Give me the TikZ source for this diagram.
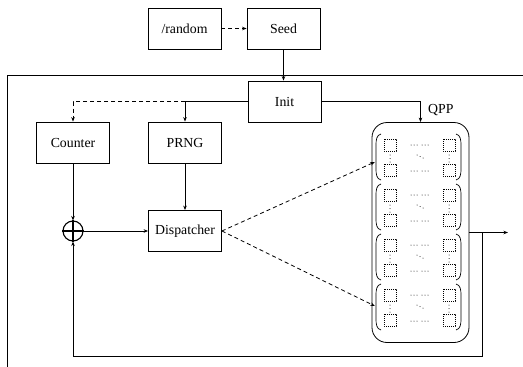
\documentclass[tikz,border=0pt]{standalone}
\usepackage{fontspec}
\setmainfont{Liberation Serif}
\usetikzlibrary{arrows.meta,calc}
\begin{document}
\begin{tikzpicture}[x=1pt,y=-1pt,
  font=\fontsize{13.8}{16}\selectfont,
  box/.style={draw, line width=0.8pt, minimum width=73pt, minimum height=41pt, inner sep=0pt},
  ar/.style={-{Stealth[length=4.5pt,width=3.5pt]}, line width=0.8pt},
  dsh/.style={dash pattern=on 4pt off 3pt},
  sq/.style={line width=0.6pt, dash pattern=on 1.2pt off 0.8pt},
  dt/.style={fill, circle, inner sep=0pt, minimum size=1pt}]
\useasboundingbox (0,0) rectangle (523,367);

% frame
\draw[line width=1pt] (7,367) -- (7,75) -- (523,75);

% boxes
\node[box] (rand) at (184.5,28.5) {/random};
\node[box] (seed) at (283.5,28.5) {Seed};
\node[box] (init) at (284.5,101.5) {Init};
\node[box] (counter) at (73,142.5) {Counter};
\node[box] (prng) at (185,142.5) {PRNG};
\node[box] (disp) at (185,231) {Dispatcher};
\node[draw, circle, line width=1.1pt, minimum size=20pt, inner sep=0pt] (xor) at (73,231) {};
\draw[line width=1.1pt] (xor.north) -- (xor.south) (xor.west) -- (xor.east);

% QPP
\node[draw, line width=0.8pt, rounded corners=15pt, minimum width=97pt, minimum height=220pt, inner sep=0pt] (qpp) at (420.5,232.5) {};
\node[anchor=west, inner sep=0pt] (qlab) at (428,110) {QPP};

\foreach \cy [count=\i] in {157,207,257,307} {
  \node[minimum width=85pt, minimum height=46pt, inner sep=0pt] (b\i) at (418.5,\cy) {};
  % parentheses
  \draw[line width=0.7pt] (381,{\cy-23}) .. controls (376.5,{\cy-22}) and (376,{\cy-17}) .. (376,{\cy-12})
     -- (376,{\cy+12}) .. controls (376,{\cy+17}) and (376.5,{\cy+22}) .. (381,{\cy+23});
  \draw[line width=0.7pt] (456,{\cy-23}) .. controls (460.5,{\cy-22}) and (461,{\cy-17}) .. (461,{\cy-12})
     -- (461,{\cy+12}) .. controls (461,{\cy+17}) and (460.5,{\cy+22}) .. (456,{\cy+23});
  % squares
  \draw[sq] (384,{\cy-18}) rectangle (396,{\cy-6});
  \draw[sq] (384,{\cy+7}) rectangle (396,{\cy+19});
  \draw[sq] (443,{\cy-18}) rectangle (455,{\cy-6});
  \draw[sq] (443,{\cy+7}) rectangle (455,{\cy+19});
  % vertical dots
  \foreach \yy in {-2,1.5,5} {
    \fill (390,{\cy+\yy}) circle (0.5pt);
    \fill (449,{\cy+\yy}) circle (0.5pt);
  }
  % horizontal dots
  \foreach \xx in {411,414,417,422,425,428} {
    \fill (\xx,{\cy-12}) circle (0.5pt);
    \fill (\xx,{\cy+14}) circle (0.5pt);
  }
  % diagonal dots
  \fill (417,{\cy-2}) circle (0.5pt);
  \fill (420,{\cy-0.5}) circle (0.5pt);
  \fill (423,{\cy+1}) circle (0.5pt);
}

% connectors
\draw[ar, dsh] (rand) -- (seed);
\draw[ar] (seed.south) -- (seed.south |- init.north);
\draw[ar] (init.west) -| (prng.north);
\draw[ar, dsh] (prng.north |- init.west) -| (counter.north);
\draw[ar] (init.east) -| (qpp.north);
\draw[ar] (counter) -- (xor);
\draw[ar] (prng) -- (disp);
\draw[ar] (xor) -- (disp);
\draw[ar, dsh] (disp.east) -- ($(b1.west)+(-1,5)$);
\draw[ar, dsh] (disp.east) -- ($(b4.west)+(-1,-1)$);
\coordinate (out) at (508,232.5);
\draw[ar] (qpp.east) -- (out);
\coordinate (fb) at (482,356);
\draw[ar] (fb |- qpp.east) -- (fb) -| (xor.south);
\end{tikzpicture}
\end{document}
